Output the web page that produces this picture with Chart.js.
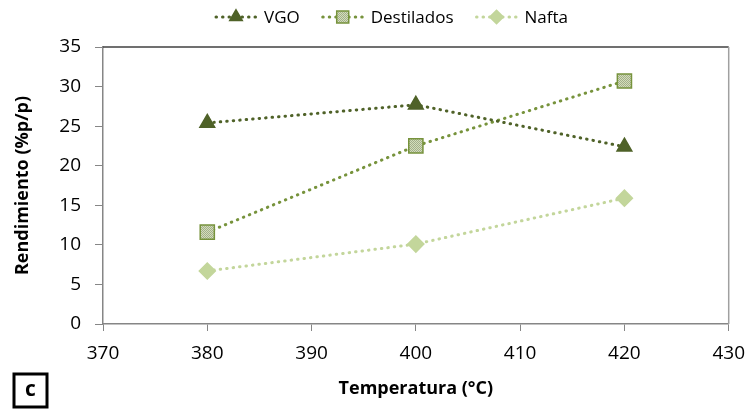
<!DOCTYPE html>
<html>
<head>
<meta charset="utf-8">
<script src="https://cdn.jsdelivr.net/npm/chart.js@4.4.1/dist/chart.umd.min.js"></script>
<style>
  html, body { margin: 0; padding: 0; background: #fff; }
  #wrap { width: 756px; height: 409px; }
</style>
</head>
<body>
<div id="wrap"><canvas id="myChart" width="756" height="409"></canvas></div>
<script>
const temperaturas = [380, 400, 420];
const vgo = [25.4, 27.7, 22.4];
const destilados = [11.6, 22.5, 30.7];
const nafta = [6.7, 10.1, 15.9];
const ticksY = [0, 5, 10, 15, 20, 25, 30, 35];
const ticksX = [370, 380, 390, 400, 410, 420, 430];

const FUENTE = "'Open Sans', sans-serif";

// trama de puntitos para el relleno del cuadrado
function trama() {
  const c = document.createElement("canvas");
  c.width = 2; c.height = 2;
  const g = c.getContext("2d");
  g.fillStyle = "#d3dfba"; g.fillRect(0, 0, 2, 2);
  g.fillStyle = "#a3ad8c"; g.fillRect(0, 0, 1, 1); g.fillRect(1, 1, 1, 1);
  return g.createPattern(c, "repeat");
}
const relleno = trama();

const serie = (label, data, color, fill, border, style, radius) => ({
  label, data: data.map((v, i) => ({ x: temperaturas[i], y: v })),
  borderColor: color, borderWidth: 3, borderDash: [0.5, 6], borderCapStyle: "round",
  pointStyle: style, pointRadius: radius, pointHoverRadius: radius,
  pointBackgroundColor: fill, pointBorderColor: border, pointBorderWidth: 1.5,
  fill: false, tension: 0
});

// leyenda propia (línea punteada + marcador), borde del área y recuadro "c"
const extras = {
  id: "extras",
  beforeDatasetsDraw(chart) {
    const { ctx, chartArea: a } = chart;
    ctx.save();
    ctx.lineWidth = 1.5;
    ctx.strokeStyle = "#404040";
    ctx.beginPath(); ctx.moveTo(a.left, a.top); ctx.lineTo(a.right, a.top); ctx.stroke();
    ctx.strokeStyle = "#a0a0a0";
    ctx.beginPath(); ctx.moveTo(a.right, a.top); ctx.lineTo(a.right, a.bottom); ctx.stroke();
    ctx.restore();
  },
  afterDraw(chart) {
    const ctx = chart.ctx;
    ctx.save();
    ctx.font = "17px " + FUENTE;
    ctx.textBaseline = "middle";
    const largo = 44, sep = 6, hueco = 21, y = 17;
    const anchos = chart.data.datasets.map(d => ctx.measureText(d.label).width);
    const total = anchos.reduce((s, w) => s + largo + sep + w, 0) + hueco * (anchos.length - 1);
    let x = 391 - total / 2;
    chart.data.datasets.forEach((d, i) => {
      ctx.save();
      ctx.strokeStyle = d.borderColor; ctx.lineWidth = 3;
      ctx.setLineDash(d.borderDash); ctx.lineCap = "round";
      ctx.beginPath(); ctx.moveTo(x + 2, y); ctx.lineTo(x + largo - 2, y); ctx.stroke();
      ctx.restore();
      ctx.save();
      ctx.fillStyle = d.pointBackgroundColor; ctx.strokeStyle = d.pointBorderColor;
      ctx.lineWidth = d.pointBorderWidth;
      Chart.helpers.drawPoint(ctx, {
        pointStyle: d.pointStyle, rotation: 0, radius: d.pointRadius * 0.85,
        borderWidth: d.pointBorderWidth
      }, x + largo / 2, y);
      ctx.restore();
      ctx.fillStyle = "#000";
      ctx.fillText(d.label, x + largo + sep, y + 1);
      x += largo + sep + anchos[i] + hueco;
    });
    // recuadro de la letra del panel
    ctx.lineWidth = 3; ctx.strokeStyle = "#000";
    ctx.strokeRect(14, 374, 33, 33);
    ctx.font = "bold 21px " + FUENTE;
    ctx.textAlign = "center";
    ctx.fillText("c", 30.5, 390);
    ctx.restore();
  }
};

const chart = new Chart(document.getElementById("myChart"), {
  type: "line",
  data: {
    datasets: [
      serie("VGO", vgo, "#4f6228", "#4f6228", "#4f6228", "triangle", 8.5),
      serie("Destilados", destilados, "#77933c", relleno, "#77933c", "rect", 10),
      serie("Nafta", nafta, "#c3d69b", "#c3d69b", "#c3d69b", "rectRot", 8)
    ]
  },
  plugins: [extras],
  options: {
    responsive: false,
    animation: false,
    layout: { padding: { top: 47, right: 24, bottom: 0, left: 0 } },
    plugins: { legend: { display: false }, tooltip: { enabled: false } },
    scales: {
      x: {
        type: "linear", min: 370, max: 430,
        afterBuildTicks: s => { s.ticks = ticksX.map(v => ({ value: v })); },
        afterFit: s => { s.height = 85; },
        ticks: { color: "#000", padding: 11, font: { family: FUENTE, size: 19 } },
        grid: { display: true, drawOnChartArea: false, drawTicks: true, tickLength: 7, color: "#868686" },
        border: { display: true, color: "#868686", width: 1.5 },
        title: { display: true, text: "Temperatura (°C)", color: "#000",
          font: { family: FUENTE, size: 18, weight: "bold" }, padding: { top: 0, bottom: 9 } }
      },
      y: {
        min: 0, max: 35,
        afterBuildTicks: s => { s.ticks = ticksY.map(v => ({ value: v })); },
        afterFit: s => { s.width = 103; },
        ticks: { color: "#000", padding: 14, font: { family: FUENTE, size: 19 } },
        grid: { display: true, drawOnChartArea: false, drawTicks: true, tickLength: 8, color: "#868686" },
        border: { display: true, color: "#868686", width: 1.5 },
        title: { display: true, text: "Rendimiento (%p/p)", color: "#000",
          font: { family: FUENTE, size: 18, weight: "bold" }, padding: { top: 12, bottom: 0 } }
      }
    }
  }
});
</script>
</body>
</html>
